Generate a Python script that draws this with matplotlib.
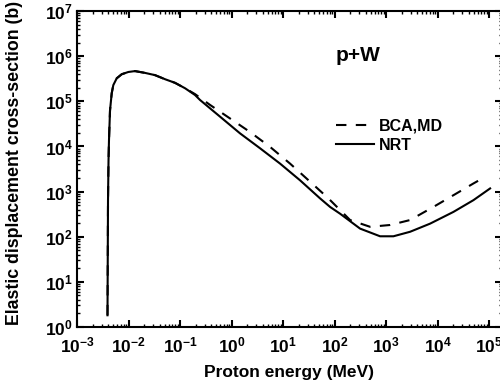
import numpy as np
import matplotlib
matplotlib.use("Agg")
import matplotlib.pyplot as plt
from matplotlib.ticker import LogLocator, FuncFormatter, NullFormatter

# log10(energy / MeV) and log10(cross-section / b)
nrt_logE = [-2.408, -2.398, -2.388, -2.379, -2.359, -2.326, -2.295, -2.229,
            -2.132, -2.004, -1.874, -1.680, -1.485, -1.291, -1.098, -0.903,
            -0.709, -0.612, -0.223, 0.165, 0.553, 0.942, 1.330, 1.718, 1.913,
            2.107, 2.495, 2.883, 3.142, 3.466, 3.854, 4.307, 4.695, 5.019]
nrt_logS = [0.26, 2.81, 3.70, 4.14, 4.80, 5.18, 5.36, 5.51,
            5.60, 5.65, 5.67, 5.63, 5.58, 5.49, 5.41, 5.29,
            5.14, 5.03, 4.66, 4.29, 3.96, 3.62, 3.25, 2.85, 2.66,
            2.51, 2.18, 2.01, 2.01, 2.11, 2.29, 2.55, 2.81, 3.07]

bca_logE = [-2.408, -2.398, -2.388, -2.379, -2.359, -2.326, -2.295, -2.229,
            -2.132, -2.004, -1.874, -1.680, -1.485, -1.291, -1.098, -0.903,
            -0.709, -0.417, -0.029, 0.359, 0.748, 1.136, 1.524, 1.880, 2.301,
            2.689, 3.078, 3.466, 3.918, 4.307, 4.695, 4.85]
bca_logS = [0.26, 2.81, 3.70, 4.14, 4.80, 5.18, 5.36, 5.51,
            5.60, 5.65, 5.67, 5.63, 5.58, 5.49, 5.41, 5.29,
            5.16, 4.92, 4.62, 4.32, 3.99, 3.62, 3.22, 2.85, 2.37,
            2.22, 2.26, 2.37, 2.66, 2.92, 3.18, 3.28]

plt.rcParams["font.family"] = "Liberation Sans"
plt.rcParams["font.weight"] = "bold"
plt.rcParams["mathtext.fontset"] = "custom"
plt.rcParams["mathtext.bf"] = "Liberation Sans:bold"
plt.rcParams["mathtext.rm"] = "Liberation Sans:bold"

fig = plt.figure(figsize=(5, 3.92), dpi=100)
ax = fig.add_axes([0.154, 0.1658, 0.85, 0.806])

ax.plot(10 ** np.array(bca_logE), 10 ** np.array(bca_logS), color="black",
        lw=1.5, dashes=(5, 4.5), label="BCA,MD")
ax.plot(10 ** np.array(nrt_logE), 10 ** np.array(nrt_logS), color="black",
        lw=1.5, label="NRT")

ax.set_xscale("log")
ax.set_yscale("log")
ax.set_xlim(1e-3, 10 ** 5.25)
ax.set_ylim(1, 1e7)

fmt = FuncFormatter(lambda v, p: r"$\mathbf{10^{%d}}$" % round(np.log10(v)))
for axis in (ax.xaxis, ax.yaxis):
    axis.set_major_locator(LogLocator(base=10, numticks=20))
    axis.set_minor_locator(LogLocator(base=10, subs=np.arange(2, 10), numticks=20))
    axis.set_major_formatter(fmt)
    axis.set_minor_formatter(NullFormatter())

ax.tick_params(which="both", direction="in", top=True, right=True, width=1.5)
ax.tick_params(which="major", length=5, labelsize=12.5)
ax.tick_params(which="minor", length=2.5, width=1)
ax.tick_params(axis="x", pad=6)
ax.tick_params(axis="y", pad=3)
for s in ax.spines.values():
    s.set_linewidth(1.5)

ax.set_xlabel("Proton energy (MeV)", fontsize=12.5, fontweight="bold", labelpad=7)
ax.set_ylabel("Elastic displacement cross-section (b)", fontsize=12.8,
              fontweight="bold")
ax.yaxis.set_label_coords(-0.128, 0.518)

ax.text(0.609, 0.858, "p+W", transform=ax.transAxes, fontsize=15,
        fontweight="bold", ha="left", va="center")

ax.legend(loc="upper left", bbox_to_anchor=(0.609, 0.661), frameon=False,
          fontsize=11.5, handlelength=2.4, handletextpad=0.3, borderpad=0,
          borderaxespad=0, labelspacing=0.3)

fig.savefig("out.png", dpi=100)
